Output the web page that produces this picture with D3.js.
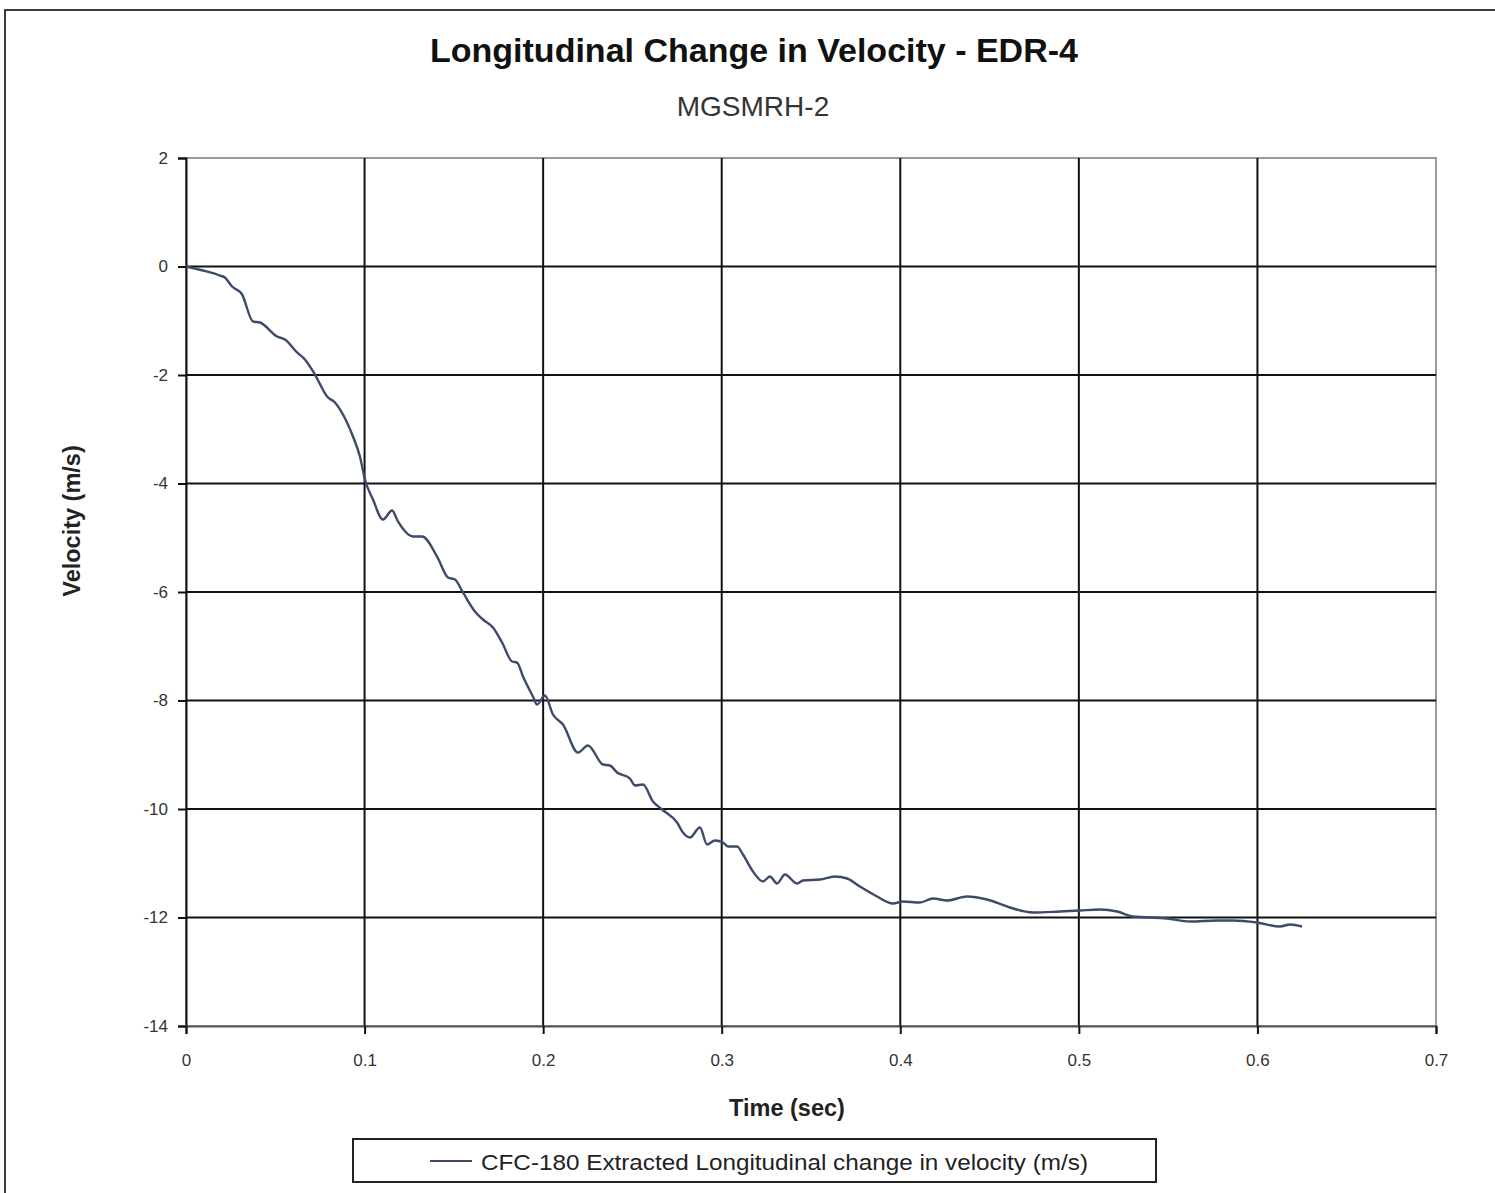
<!DOCTYPE html>
<html><head><meta charset="utf-8">
<script src="https://cdn.jsdelivr.net/npm/d3@7"></script>
<style>body{margin:0;background:#fff}svg{display:block}text{font-family:"Liberation Sans",Arial,sans-serif}</style>
</head><body>
<svg id="c" width="1495" height="1193"></svg>
<script>
const title = "Longitudinal Change in Velocity - EDR-4";
const subtitle = "MGSMRH-2";
const xLabel = "Time (sec)";
const yLabel = "Velocity (m/s)";
const seriesName = "CFC-180  Extracted Longitudinal change in velocity (m/s)";
const xTicks = [0,0.1,0.2,0.3,0.4,0.5,0.6,0.7];
const yTicks = [2,0,-2,-4,-6,-8,-10,-12,-14];
const time = [0,0.0095,0.019,0.0218,0.0258,0.0314,0.0375,0.0414,0.051,0.0554,0.0622,0.0666,0.0722,0.079,0.0834,0.0879,0.0935,0.0974,0.1002,0.1047,0.1103,0.1154,0.1187,0.1271,0.1322,0.1406,0.1467,0.1506,0.1551,0.1618,0.1663,0.1719,0.177,0.1826,0.1854,0.1887,0.1943,0.1966,0.201,0.2055,0.2111,0.2195,0.2251,0.2335,0.2374,0.2414,0.2486,0.2514,0.2559,0.2615,0.2666,0.275,0.2783,0.2822,0.2878,0.2918,0.2962,0.3007,0.3035,0.3086,0.3119,0.3175,0.3231,0.327,0.331,0.3354,0.3422,0.3455,0.355,0.3634,0.3702,0.3774,0.387,0.3959,0.4015,0.411,0.4183,0.4262,0.4374,0.4486,0.4614,0.4743,0.4894,0.5006,0.5118,0.5214,0.5303,0.5494,0.5622,0.5774,0.5863,0.5998,0.6126,0.6182,0.625];
const velocity = [0,-0.074,-0.166,-0.203,-0.369,-0.516,-1.014,-1.032,-1.29,-1.346,-1.585,-1.714,-1.991,-2.396,-2.507,-2.728,-3.134,-3.502,-3.926,-4.295,-4.664,-4.498,-4.7,-4.977,-4.977,-5.346,-5.733,-5.77,-6.009,-6.359,-6.507,-6.654,-6.931,-7.281,-7.3,-7.558,-7.926,-8.074,-7.908,-8.258,-8.442,-8.959,-8.829,-9.18,-9.198,-9.327,-9.438,-9.567,-9.548,-9.862,-10.009,-10.249,-10.433,-10.525,-10.341,-10.654,-10.581,-10.618,-10.691,-10.691,-10.839,-11.152,-11.336,-11.244,-11.373,-11.207,-11.373,-11.318,-11.3,-11.244,-11.281,-11.429,-11.613,-11.742,-11.705,-11.724,-11.65,-11.687,-11.613,-11.668,-11.816,-11.908,-11.889,-11.871,-11.853,-11.889,-11.982,-12.018,-12.074,-12.055,-12.055,-12.092,-12.166,-12.129,-12.166];

const svg = d3.select("#c");
const L=186, R=1436, T=158, B=1026;
const x = d3.scaleLinear().domain([0,0.7]).range([L,R]);
const y = d3.scaleLinear().domain([-14,2]).range([B,T]);

// outer frame
svg.append("rect").attr("x",5).attr("y",10).attr("width",1500).attr("height",1200)
  .attr("fill","none").attr("stroke","#3a3a3a").attr("stroke-width",2);

// plot border (grey top/right)
svg.append("rect").attr("x",L).attr("y",T).attr("width",R-L).attr("height",B-T)
  .attr("fill","none").attr("stroke","#9a9a9a").attr("stroke-width",2);

// grid
const g = svg.append("g");
g.selectAll(".hg").data(yTicks.filter(d=>d!==2&&d!==-14)).join("line")
  .attr("x1",L).attr("x2",R).attr("y1",d=>y(d)).attr("y2",d=>y(d))
  .attr("stroke","#111").attr("stroke-width",2);
g.selectAll(".vg").data(xTicks.filter(d=>d!==0&&d!==0.7)).join("line")
  .attr("x1",d=>x(d)).attr("x2",d=>x(d)).attr("y1",T).attr("y2",B)
  .attr("stroke","#111").attr("stroke-width",2);

// axes
const ya = svg.append("g").attr("transform",`translate(${L},0)`)
  .call(d3.axisLeft(y).tickValues(yTicks).tickSize(8).tickPadding(10).tickFormat(d=>String(d)));
ya.select(".domain").attr("stroke","#111").attr("stroke-width",2);
ya.selectAll(".tick line").attr("stroke","#111").attr("stroke-width",2);
ya.selectAll("text").attr("font-size",17).attr("fill","#333");

const xa = svg.append("g").attr("transform",`translate(0,${B})`)
  .call(d3.axisBottom(x).tickValues(xTicks).tickSize(8).tickPadding(20).tickFormat(d=>d===0?"0":d3.format(".1f")(d)));
xa.select(".domain").attr("stroke","#555").attr("stroke-width",2);
xa.selectAll(".tick line").attr("stroke","#111").attr("stroke-width",2);
xa.selectAll("text").attr("font-size",17).attr("fill","#333");

// line
const pts = time.map((t,i)=>[t,velocity[i]]);
svg.append("path").datum(pts)
  .attr("d",d3.line().x(d=>x(d[0])).y(d=>y(d[1])).curve(d3.curveMonotoneX))
  .attr("fill","none").attr("stroke","#3d4a6a").attr("stroke-width",2.4);

// titles
svg.append("text").attr("x",754).attr("y",62).attr("text-anchor","middle")
  .attr("font-size",34).attr("font-weight","bold").attr("fill","#111").text(title);
svg.append("text").attr("x",753).attr("y",116).attr("text-anchor","middle")
  .attr("font-size",28).attr("fill","#333").text(subtitle);
svg.append("text").attr("x",787).attr("y",1116).attr("text-anchor","middle")
  .attr("font-size",23.5).attr("font-weight","bold").attr("fill","#222").text(xLabel);
svg.append("text").attr("transform","translate(80,521) rotate(-90)").attr("text-anchor","middle")
  .attr("font-size",23.5).attr("font-weight","bold").attr("fill","#222").text(yLabel);

// legend
svg.append("rect").attr("x",353).attr("y",1139).attr("width",803).attr("height",43)
  .attr("fill","#fff").attr("stroke","#222").attr("stroke-width",2);
svg.append("line").attr("x1",430).attr("x2",472).attr("y1",1161).attr("y2",1161)
  .attr("stroke","#3d4a6a").attr("stroke-width",2.2);
svg.append("text").attr("x",481).attr("y",1170).attr("font-size",22).attr("fill","#222")
  .attr("textLength",607).attr("lengthAdjust","spacingAndGlyphs").text(seriesName);
</script>
</body></html>
